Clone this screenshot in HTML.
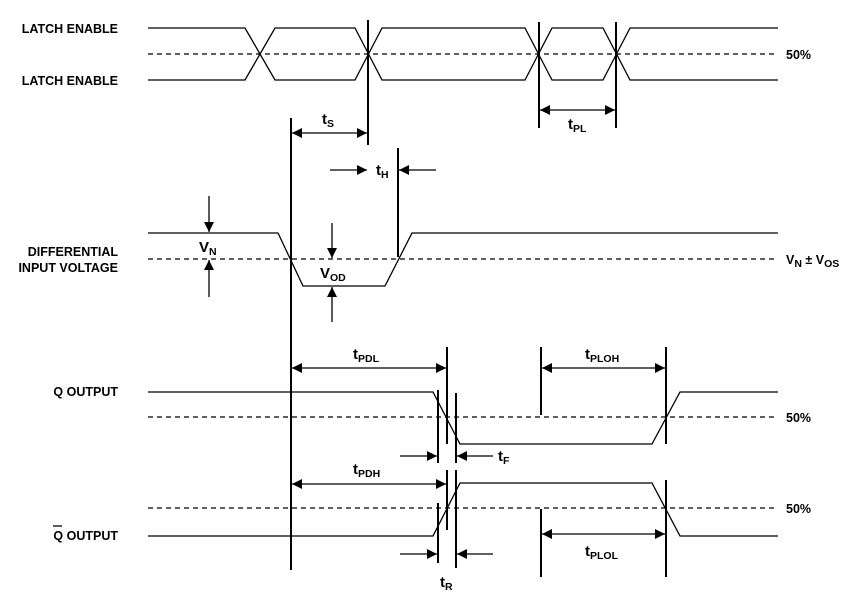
<!DOCTYPE html>
<html><head><meta charset="utf-8"><style>
html,body{margin:0;padding:0;background:#fff;}
svg{display:block;}
text{font-family:"Liberation Sans",Arial,sans-serif;font-weight:bold;fill:#000;}
.lbl{font-size:12.5px;}
.t{font-size:15px;}
.s{font-size:10.5px;}
</style></head><body>
<svg width="848" height="596" viewBox="0 0 848 596" xmlns="http://www.w3.org/2000/svg">
<defs>
<marker id="a" viewBox="0 0 10 10" refX="10" refY="5" markerWidth="16" markerHeight="10" markerUnits="userSpaceOnUse" orient="auto-start-reverse"><path d="M0,0L10,5L0,10z" fill="#000"/></marker>
</defs>
<g fill="none" stroke="#000" stroke-width="1.3">
<polyline points="148,28 245,28 275,80 355,80 382,28 525,28 552,80 603,80 630,28 778,28"/>
<polyline points="148,80 245,80 275,28 355,28 382,80 525,80 552,28 603,28 630,80 778,80"/>
<polyline points="148,233 278,233 303,286 385,286 412,233 778,233"/>
<polyline points="148,392 433,392 460,444 652,444 680,392 778,392"/>
<polyline points="148,536 433,536 460,483 652,483 680,536 778,536"/>
</g>
<g stroke="#000" stroke-width="1.3" stroke-dasharray="5,4">
<line x1="148" y1="54" x2="778" y2="54"/>
<line x1="148" y1="259" x2="778" y2="259"/>
<line x1="148" y1="417" x2="778" y2="417"/>
<line x1="148" y1="508" x2="778" y2="508"/>
</g>
<g stroke="#000" stroke-width="2">
<line x1="368" y1="20" x2="368" y2="145"/>
<line x1="539" y1="22" x2="539" y2="128"/>
<line x1="616" y1="22" x2="616" y2="128"/>
<line x1="291" y1="118" x2="291" y2="570"/>
<line x1="398" y1="148" x2="398" y2="257"/>
<line x1="447" y1="347" x2="447" y2="444"/>
<line x1="447" y1="470" x2="447" y2="530"/>
<line x1="438" y1="390" x2="438" y2="463"/>
<line x1="456" y1="393" x2="456" y2="463"/>
<line x1="438" y1="503" x2="438" y2="563"/>
<line x1="456" y1="470" x2="456" y2="568"/>
<line x1="541" y1="347" x2="541" y2="415"/>
<line x1="666" y1="347" x2="666" y2="444"/>
<line x1="541" y1="509" x2="541" y2="577"/>
<line x1="666" y1="480" x2="666" y2="577"/>
</g>
<g stroke="#000" stroke-width="1.3" fill="none">
<line x1="540" y1="110" x2="615" y2="110" marker-start="url(#a)" marker-end="url(#a)"/>
<line x1="292" y1="133" x2="367" y2="133" marker-start="url(#a)" marker-end="url(#a)"/>
<line x1="330" y1="170" x2="367" y2="170" marker-end="url(#a)"/>
<line x1="436" y1="170" x2="399" y2="170" marker-end="url(#a)"/>
<line x1="209" y1="196" x2="209" y2="232" marker-end="url(#a)"/>
<line x1="209" y1="297" x2="209" y2="260" marker-end="url(#a)"/>
<line x1="332" y1="223" x2="332" y2="258" marker-end="url(#a)"/>
<line x1="332" y1="322" x2="332" y2="287" marker-end="url(#a)"/>
<line x1="292" y1="368" x2="446" y2="368" marker-start="url(#a)" marker-end="url(#a)"/>
<line x1="542" y1="368" x2="665" y2="368" marker-start="url(#a)" marker-end="url(#a)"/>
<line x1="400" y1="456" x2="437" y2="456" marker-end="url(#a)"/>
<line x1="493" y1="456" x2="457" y2="456" marker-end="url(#a)"/>
<line x1="292" y1="484" x2="446" y2="484" marker-start="url(#a)" marker-end="url(#a)"/>
<line x1="542" y1="534" x2="665" y2="534" marker-start="url(#a)" marker-end="url(#a)"/>
<line x1="400" y1="554" x2="437" y2="554" marker-end="url(#a)"/>
<line x1="493" y1="554" x2="457" y2="554" marker-end="url(#a)"/>
</g>
<g class="lbl" text-anchor="end">
<text x="118" y="33">LATCH ENABLE</text>
<text x="118" y="85">LATCH ENABLE</text>
<text x="118" y="256">DIFFERENTIAL</text>
<text x="118" y="272">INPUT VOLTAGE</text>
<text x="118" y="396">Q OUTPUT</text>
<text x="118" y="540">Q OUTPUT</text>
</g>
<line x1="53" y1="526" x2="62" y2="526" stroke="#000" stroke-width="1.3"/>
<g class="lbl">
<text x="786" y="59">50%</text>
<text x="786" y="264">V<tspan class="s" dy="3">N</tspan><tspan dy="-3"> ± V</tspan><tspan class="s" dy="3">OS</tspan></text>
<text x="786" y="422">50%</text>
<text x="786" y="513">50%</text>
</g>
<g class="t">
<text x="322" y="124">t<tspan class="s" dy="3">S</tspan></text>
<text x="376" y="175">t<tspan class="s" dy="3">H</tspan></text>
<text x="568" y="129">t<tspan class="s" dy="3">PL</tspan></text>
<text x="199" y="252">V<tspan class="s" dy="3">N</tspan></text>
<text x="320" y="278">V<tspan class="s" dy="3">OD</tspan></text>
<text x="353" y="359">t<tspan class="s" dy="3">PDL</tspan></text>
<text x="585" y="359">t<tspan class="s" dy="3">PLOH</tspan></text>
<text x="498" y="461">t<tspan class="s" dy="3">F</tspan></text>
<text x="353" y="474">t<tspan class="s" dy="3">PDH</tspan></text>
<text x="585" y="556">t<tspan class="s" dy="3">PLOL</tspan></text>
<text x="440" y="587">t<tspan class="s" dy="3">R</tspan></text>
</g>
</svg>
</body></html>
